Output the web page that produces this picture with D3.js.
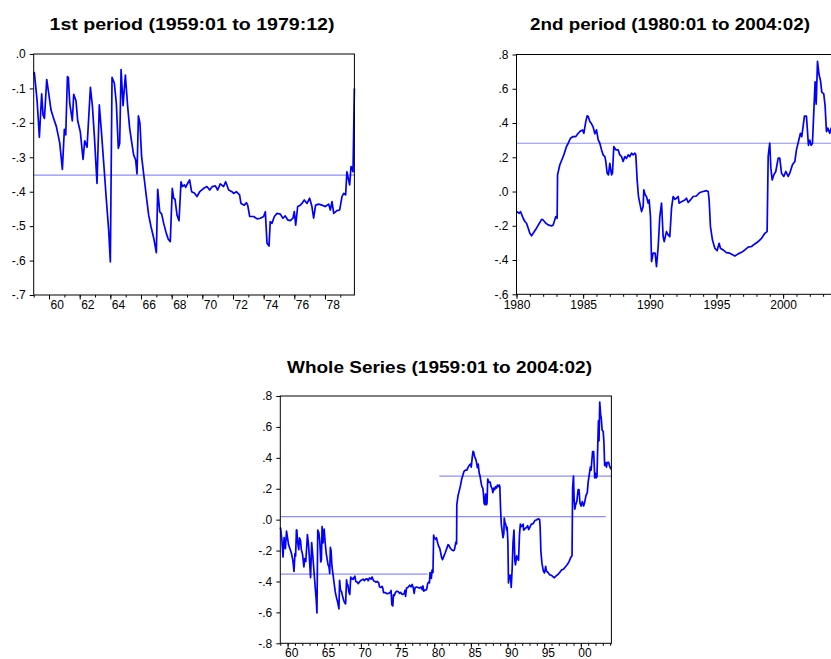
<!DOCTYPE html>
<html>
<head>
<meta charset="utf-8">
<script src="https://cdn.jsdelivr.net/npm/d3@7"></script>
<style>
  body { margin: 0; background: #fff; }
  svg { display: block; font-family: "Liberation Sans", Arial, sans-serif; }
</style>
</head>
<body>
<script>
// ---- data (decimal years, values) ----
const period1Dates = [
  1959.00, 1959.04, 1959.22, 1959.37, 1959.52, 1959.61, 1959.70, 1959.85, 1959.98, 1960.13,
  1960.30, 1960.48, 1960.70, 1960.87, 1961.00, 1961.09, 1961.20, 1961.26, 1961.35, 1961.52,
  1961.61, 1961.76, 1961.87, 1962.04, 1962.22, 1962.33, 1962.48, 1962.70, 1962.83, 1962.96,
  1963.13, 1963.28, 1963.41, 1963.57, 1963.74, 1963.89, 1964.00, 1964.11, 1964.26, 1964.39,
  1964.52, 1964.61, 1964.70, 1964.83, 1964.98, 1965.13, 1965.26, 1965.39, 1965.52, 1965.65,
  1965.74, 1965.83, 1965.93, 1966.04, 1966.22, 1966.35, 1966.50, 1966.65, 1966.83, 1967.00,
  1967.09, 1967.22, 1967.35, 1967.48, 1967.65, 1967.78, 1967.91, 1968.04, 1968.13, 1968.22,
  1968.35, 1968.48, 1968.61, 1968.70, 1968.83, 1968.91, 1969.04, 1969.17, 1969.30, 1969.48,
  1969.65, 1969.83, 1970.09, 1970.30, 1970.48, 1970.65, 1970.85, 1971.00, 1971.17, 1971.39,
  1971.52, 1971.72, 1971.93, 1972.04, 1972.22, 1972.43, 1972.52, 1972.74, 1972.87, 1972.96,
  1973.09, 1973.35, 1973.57, 1973.78, 1974.00, 1974.11, 1974.22, 1974.35, 1974.43, 1974.54,
  1974.70, 1974.87, 1975.09, 1975.26, 1975.41, 1975.57, 1975.74, 1975.91, 1976.00, 1976.09,
  1976.22, 1976.39, 1976.50, 1976.65, 1976.83, 1977.00, 1977.15, 1977.26, 1977.39, 1977.59,
  1977.80, 1978.02, 1978.24, 1978.35, 1978.46, 1978.57, 1978.78, 1978.96, 1979.11, 1979.22,
  1979.35, 1979.43, 1979.54, 1979.61, 1979.70, 1979.76, 1979.83, 1979.92
];
const period1Values = [
  -0.060, -0.054, -0.134, -0.242, -0.116, -0.177, -0.187, -0.074, -0.114, -0.163,
  -0.187, -0.211, -0.259, -0.335, -0.219, -0.235, -0.066, -0.068, -0.143, -0.194,
  -0.117, -0.136, -0.194, -0.226, -0.306, -0.252, -0.271, -0.097, -0.151, -0.240,
  -0.376, -0.148, -0.221, -0.318, -0.424, -0.511, -0.604, -0.068, -0.085, -0.143,
  -0.274, -0.259, -0.045, -0.150, -0.061, -0.153, -0.216, -0.255, -0.293, -0.308,
  -0.348, -0.180, -0.201, -0.298, -0.366, -0.414, -0.468, -0.501, -0.535, -0.577,
  -0.393, -0.458, -0.465, -0.492, -0.521, -0.538, -0.545, -0.390, -0.419, -0.422,
  -0.468, -0.484, -0.371, -0.385, -0.380, -0.387, -0.376, -0.366, -0.400, -0.404,
  -0.414, -0.400, -0.390, -0.385, -0.395, -0.385, -0.383, -0.395, -0.377, -0.385,
  -0.371, -0.395, -0.400, -0.405, -0.400, -0.409, -0.434, -0.439, -0.432, -0.439,
  -0.472, -0.472, -0.479, -0.477, -0.472, -0.458, -0.550, -0.558, -0.487, -0.492,
  -0.472, -0.463, -0.465, -0.477, -0.470, -0.482, -0.484, -0.477, -0.458, -0.497,
  -0.443, -0.439, -0.434, -0.424, -0.434, -0.419, -0.443, -0.477, -0.439, -0.436,
  -0.439, -0.443, -0.436, -0.453, -0.429, -0.463, -0.455, -0.453, -0.414, -0.405,
  -0.409, -0.342, -0.366, -0.380, -0.327, -0.330, -0.342, -0.100
];

const period2Dates = [
  1980.00, 1980.20, 1980.30, 1980.50, 1980.63, 1980.75, 1980.88, 1981.00, 1981.13, 1981.25,
  1981.50, 1981.75, 1981.88, 1982.00, 1982.20, 1982.38, 1982.63, 1982.75, 1982.95, 1983.05,
  1983.08, 1983.25, 1983.45, 1983.55, 1983.75, 1983.88, 1984.05, 1984.25, 1984.45, 1984.63,
  1984.75, 1984.95, 1985.05, 1985.20, 1985.30, 1985.38, 1985.50, 1985.63, 1985.75, 1985.88,
  1986.00, 1986.13, 1986.25, 1986.38, 1986.50, 1986.63, 1986.70, 1986.80, 1986.90, 1987.00,
  1987.13, 1987.20, 1987.30, 1987.45, 1987.63, 1987.75, 1987.88, 1988.00, 1988.13, 1988.25,
  1988.38, 1988.50, 1988.63, 1988.75, 1988.88, 1988.95, 1989.05, 1989.15, 1989.25, 1989.38,
  1989.50, 1989.55, 1989.65, 1989.75, 1989.88, 1989.95, 1990.05, 1990.13, 1990.25, 1990.40,
  1990.50, 1990.63, 1990.75, 1990.88, 1991.00, 1991.08, 1991.25, 1991.38, 1991.50, 1991.63,
  1991.75, 1991.88, 1992.00, 1992.13, 1992.20, 1992.38, 1992.63, 1992.75, 1992.88, 1993.05,
  1993.25, 1993.50, 1993.63, 1993.75, 1994.00, 1994.25, 1994.38, 1994.45, 1994.55, 1994.70,
  1994.88, 1995.05, 1995.20, 1995.30, 1995.50, 1995.75, 1996.00, 1996.38, 1996.63, 1996.88,
  1997.13, 1997.38, 1997.63, 1997.88, 1998.13, 1998.38, 1998.63, 1998.80, 1998.88, 1998.95,
  1999.00, 1999.08, 1999.18, 1999.30, 1999.45, 1999.63, 1999.75, 1999.88, 2000.05, 2000.20,
  2000.38, 2000.50, 2000.70, 2000.88, 2001.00, 2001.30, 2001.40, 2001.60, 2001.75, 2001.90,
  2002.00, 2002.10, 2002.20, 2002.40, 2002.48, 2002.58, 2002.70, 2002.80, 2002.90, 2003.05,
  2003.15, 2003.25, 2003.35, 2003.50, 2003.60, 2003.80, 2003.90, 2004.08, 2004.17
];
const period2Values = [
  -0.117, -0.127, -0.117, -0.156, -0.175, -0.185, -0.214, -0.244, -0.259, -0.244,
  -0.214, -0.181, -0.162, -0.166, -0.185, -0.195, -0.201, -0.195, -0.146, -0.156,
   0.097,  0.156,  0.194,  0.214,  0.263,  0.282,  0.311,  0.321,  0.321,  0.340,
   0.350,  0.360,  0.340,  0.409,  0.442,  0.438,  0.409,  0.395,  0.376,  0.337,
   0.360,  0.302,  0.282,  0.243,  0.214,  0.204,  0.175,  0.107,  0.097,  0.165,
   0.097,  0.107,  0.263,  0.243,  0.243,  0.214,  0.204,  0.175,  0.204,  0.194,
   0.214,  0.204,  0.224,  0.214,  0.224,  0.214,  0.068, -0.029, -0.068, -0.117,
  -0.088,  0.010, -0.019, -0.029, -0.068, -0.049, -0.146, -0.409, -0.360, -0.360,
  -0.438, -0.321, -0.146, -0.068, -0.263, -0.292, -0.234, -0.253, -0.263, -0.097,
  -0.029, -0.045, -0.039, -0.029, -0.068, -0.059, -0.049, -0.039, -0.064, -0.049,
  -0.029, -0.026, -0.014, -0.006,  0.000,  0.005,  0.000, -0.049, -0.205, -0.283,
  -0.331, -0.345, -0.302, -0.331, -0.341, -0.357, -0.360, -0.376, -0.364, -0.355,
  -0.341, -0.325, -0.321, -0.306, -0.292, -0.273, -0.244, -0.234,  0.204,  0.253,
   0.282,  0.136,  0.068,  0.097,  0.117,  0.195,  0.195,  0.107,  0.088,  0.117,
   0.088,  0.107,  0.156,  0.175,  0.243,  0.340,  0.320,  0.440,  0.440,  0.270,
   0.300,  0.270,  0.280,  0.640,  0.510,  0.760,  0.680,  0.650,  0.580,  0.570,
   0.500,  0.350,  0.370,  0.340,  0.370,  0.370,  0.350,  0.330,  0.330
];

const panelTitles = [
  "1st period (1959:01 to 1979:12)",
  "2nd period (1980:01 to 2004:02)",
  "Whole Series (1959:01 to 2004:02)"
];

// sample means drawn as flat lines: [value, from, to]
const meanFirst = [-0.352, 1959.0, 1979.1];
const meanSecond = [0.282, 1980.7, 2004.17];
const meanWhole = [0.02, 1959.0, 2003.4];

const p1YTicks = [0, -0.1, -0.2, -0.3, -0.4, -0.5, -0.6, -0.7];
const p2YTicks = [0.8, 0.6, 0.4, 0.2, 0, -0.2, -0.4, -0.6];
const p3YTicks = [0.8, 0.6, 0.4, 0.2, 0, -0.2, -0.4, -0.6, -0.8];
const p1XLabels = [1960, 1962, 1964, 1966, 1968, 1970, 1972, 1974, 1976, 1978];
const p2XLabels = [1980, 1985, 1990, 1995, 2000];
const p3XLabels = [1960, 1965, 1970, 1975, 1980, 1985, 1990, 1995, 2000];

const period1 = period1Dates.map((d, i) => [d, period1Values[i]]);
const period2 = period2Dates.map((d, i) => [d, period2Values[i]]);
const whole = period1.concat(period2);

const seriesColor = '#0000ff';
const meanColor = '#8c8cff';

const svg = d3.select('body').append('svg')
  .attr('width', 831)
  .attr('height', 659);

svg.append('rect').attr('width', 831).attr('height', 659).attr('fill', '#fff');

function fmtY(v) {
  if (Math.abs(v) < 1e-9) return '.0';
  return (v < 0 ? '-' : '') + '.' + Math.round(Math.abs(v) * 10);
}

function drawPanel(p) {
  const x = d3.scaleLinear().domain(p.xDomain).range([p.left, p.right]);
  const y = d3.scaleLinear().domain(p.yDomain).range([p.bottom, p.top]);
  const g = svg.append('g');

  g.append('text')
    .attr('x', p.titleX)
    .attr('y', p.titleY)
    .attr('text-anchor', 'middle')
    .attr('textLength', p.titleWidth)
    .attr('lengthAdjust', 'spacingAndGlyphs')
    .style('font-size', '16px')
    .style('font-weight', 'bold')
    .text(p.title);

  p.means.forEach(m => {
    g.append('line')
      .attr('x1', x(m[1])).attr('x2', x(m[2]))
      .attr('y1', y(m[0])).attr('y2', y(m[0]))
      .attr('stroke', meanColor)
      .attr('stroke-width', 1.2);
  });

  const line = d3.line().x(d => x(d[0])).y(d => y(d[1]));
  g.append('path')
    .datum(p.points)
    .attr('d', line)
    .attr('fill', 'none')
    .attr('stroke', seriesColor)
    .attr('stroke-width', 1.7)
    .attr('stroke-linejoin', 'round');

  g.append('rect')
    .attr('x', p.left).attr('y', p.top)
    .attr('width', x(p.xDomain[1]) - p.left)
    .attr('height', p.bottom - p.top)
    .attr('fill', 'none')
    .attr('stroke', '#000')
    .attr('stroke-width', 1);

  // y axis
  const yAxis = g.append('g')
    .attr('transform', `translate(${p.left},0)`)
    .call(d3.axisLeft(y).tickValues(p.yTicks).tickSize(4).tickPadding(4).tickFormat(fmtY));
  yAxis.select('.domain').remove();
  yAxis.selectAll('text').style('font-size', '12px').attr('fill', '#000');

  // x axis: minor ticks every year, longer ticks at labelled years
  const years = d3.range(Math.ceil(p.xDomain[0]), Math.floor(p.xDomain[1]) + 1);
  const minor = g.append('g')
    .attr('transform', `translate(0,${p.bottom})`)
    .call(d3.axisBottom(x).tickValues(years).tickSize(2.5).tickFormat(''));
  minor.select('.domain').remove();

  const major = g.append('g')
    .attr('transform', `translate(0,${p.bottom})`)
    .call(d3.axisBottom(x).tickValues(p.majorTicks).tickSize(4.5).tickFormat(''));
  major.select('.domain').remove();

  const labels = g.append('g')
    .attr('transform', `translate(0,${p.bottom})`)
    .call(d3.axisBottom(x)
      .tickValues(p.xLabels.map(v => v + p.labelShift))
      .tickSize(0)
      .tickPadding(p.labelPad)
      .tickFormat(v => p.labelFmt(Math.round(v - p.labelShift))));
  labels.select('.domain').remove();
  labels.selectAll('text').style('font-size', '12px').attr('fill', '#000');
}

const yy = v => String(v % 100).padStart(2, '0');

drawPanel({
  title: panelTitles[0], titleX: 192, titleY: 30, titleWidth: 285,
  left: 33.7, right: 354.4, top: 54, bottom: 295,
  xDomain: [1959, 1979.92], yDomain: [-0.7, 0],
  points: period1, means: [[meanFirst[0], 1959, 1979.92]],
  yTicks: p1YTicks, xLabels: p1XLabels, majorTicks: p1XLabels,
  labelShift: 0.5, labelPad: 5, labelFmt: yy
});

drawPanel({
  title: panelTitles[1], titleX: 670, titleY: 30, titleWidth: 280,
  left: 516.5, right: 838.7, top: 54.5, bottom: 294.3,
  xDomain: [1980, 2004.17], yDomain: [-0.6, 0.8],
  points: period2, means: [[meanSecond[0], 1980, 2004.17]],
  yTicks: p2YTicks, xLabels: p2XLabels, majorTicks: p2XLabels,
  labelShift: 0, labelPad: 6, labelFmt: v => String(v)
});

drawPanel({
  title: panelTitles[2], titleX: 439.5, titleY: 373, titleWidth: 305,
  left: 280.3, right: 611.4, top: 396, bottom: 643.3,
  xDomain: [1959, 2004.17], yDomain: [-0.8, 0.8],
  points: whole, means: [meanFirst, meanSecond, meanWhole],
  yTicks: p3YTicks, xLabels: p3XLabels, majorTicks: p3XLabels,
  labelShift: 0.5, labelPad: 5.5, labelFmt: yy
});
</script>
</body>
</html>
